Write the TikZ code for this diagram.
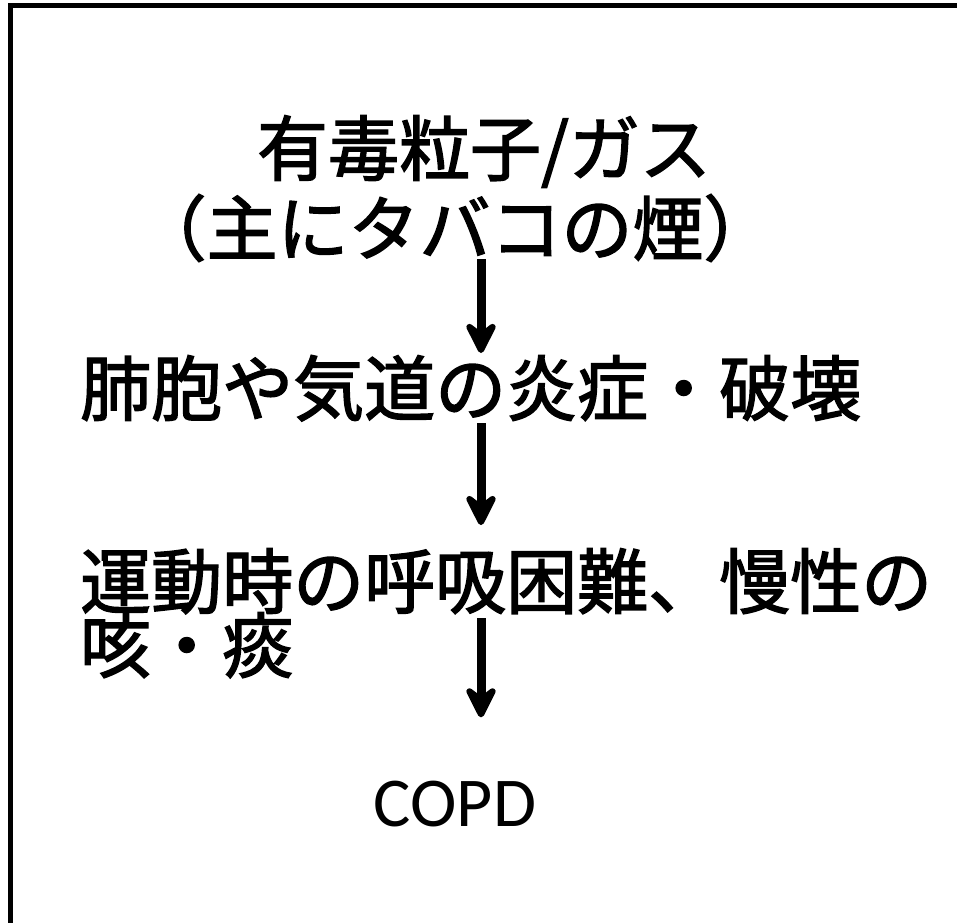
\documentclass[tikz,border=0pt]{standalone}
\usepackage{fontspec}
\setmainfont{Carlito}
\newfontfamily\jpfont[FakeBold=2]{Noto Sans CJK JP}
\usetikzlibrary{arrows.meta,positioning}
\tikzstyle{jptext} = [font=\jpfont\fontsize{71}{64}\selectfont, inner sep=0pt]
\tikzstyle{flow} = [line width=9pt,-{Stealth[length=40pt,width=40pt,inset=15pt,round]}]
\tikzstyle{frame} = [line width=5pt]

\begin{document}
\begin{tikzpicture}[x=1pt,y=-1pt]
\useasboundingbox (0,0) rectangle (957,923);
% Frame
\draw[frame] (957,6) -- (10,6) -- (10,923);

% Labels
\node[jptext, anchor=base] (toxic) at (484,175) {有毒粒子/ガス};
\node[jptext, anchor=base] (smoke) at (455,255) {（主にタバコの煙）};
\node[jptext, anchor=base west] (lung) at (80,415) {肺胞や気道の炎症・破壊};
\node[jptext, anchor=base west] (symptom) at (80,608) {運動時の呼吸困難、慢性の};
\node[jptext, anchor=base west] (cough) at ([yshift=-64pt]symptom.base west) {咳・痰};
\node[font=\fontsize{70}{70}\selectfont, inner sep=0pt, anchor=base] (copd) at (455,826) {COPD};

% Arrows
\coordinate (axis) at (481,0);
\draw[flow, shorten <=-3pt, shorten >=2pt] (smoke.south -| axis) -- (lung.north -| axis);
\draw[flow, shorten <=2pt, shorten >=23pt] (lung.south -| axis) -- (symptom.north -| axis);
\draw[flow, shorten <=4pt, shorten >=63pt] (symptom.south -| axis) -- (copd.north -| axis);
\end{tikzpicture}
\end{document}
